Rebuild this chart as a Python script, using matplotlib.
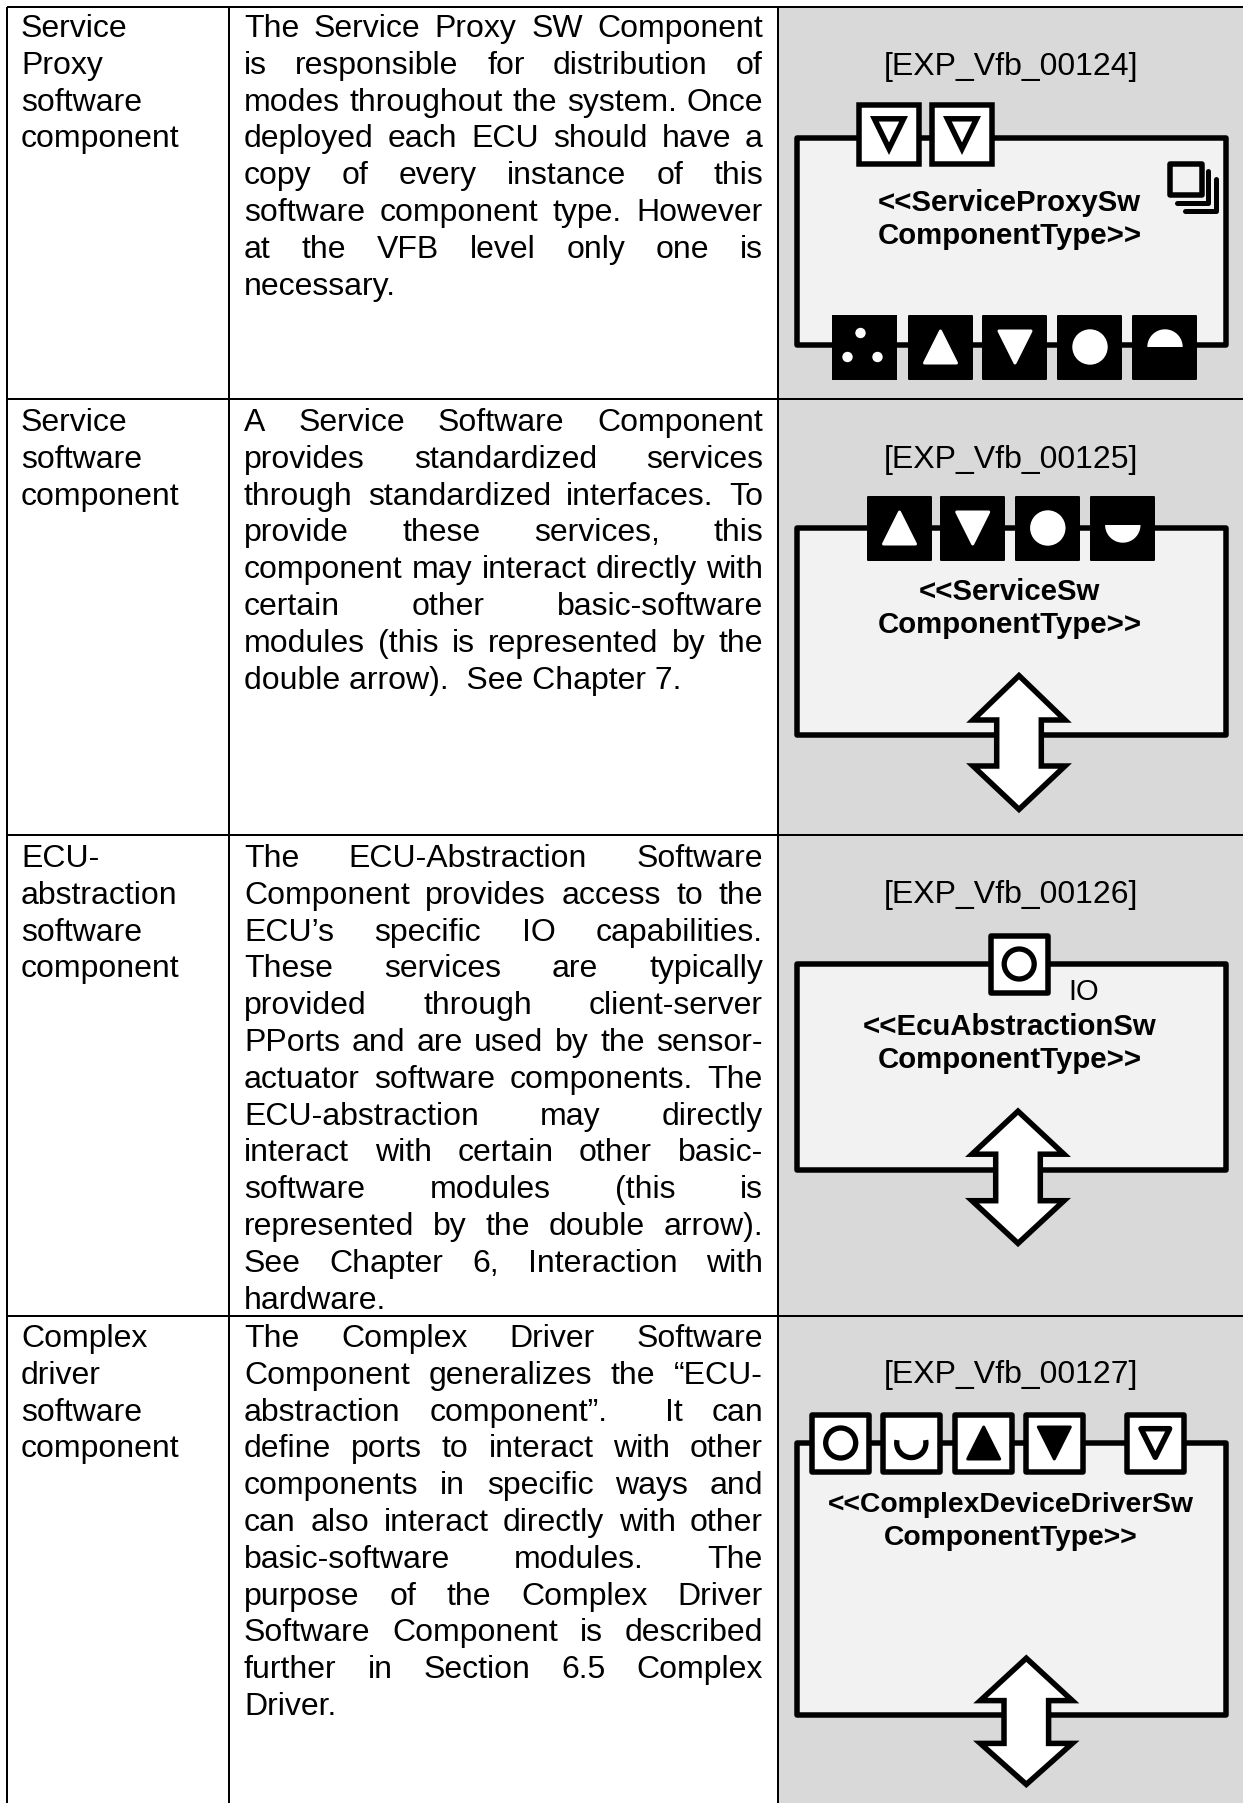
import numpy as np
import matplotlib
matplotlib.use("Agg")
import matplotlib.pyplot as plt
from matplotlib.patches import Rectangle, Polygon, Circle

plt.rcParams['font.family'] = ['Liberation Sans', 'DejaVu Sans']

# table text
row_names = [
    ["Service", "Proxy", "software", "component"],
    ["Service", "software", "component"],
    ["ECU-", "abstraction", "software", "component"],
    ["Complex", "driver", "software", "component"],
]
row_lines = [
    ["The Service Proxy SW Component", "is responsible for distribution of",
     "modes throughout the system. Once", "deployed each ECU should have a",
     "copy of every instance of this", "software component type. However",
     "at the VFB level only one is", "necessary."],
    ["A Service Software Component", "provides standardized services",
     "through standardized interfaces. To", "provide these services, this",
     "component may interact directly with", "certain other basic-software",
     "modules (this is represented by the", "double arrow).  See Chapter 7."],
    ["The ECU-Abstraction Software", "Component provides access to the",
     "ECU\u2019s specific IO capabilities.", "These services are typically",
     "provided through client-server", "PPorts and are used by the sensor-",
     "actuator software components. The", "ECU-abstraction may directly",
     "interact with certain other basic-", "software modules (this is",
     "represented by the double arrow).", "See Chapter 6, Interaction with",
     "hardware."],
    ["The Complex Driver Software", "Component generalizes the \u201cECU-",
     "abstraction component\u201d.  It can", "define ports to interact with other",
     "components in specific ways and", "can also interact directly with other",
     "basic-software modules. The", "purpose of the Complex Driver",
     "Software Component is described", "further in Section 6.5 Complex",
     "Driver."],
]
row_ids = ["[EXP_Vfb_00124]", "[EXP_Vfb_00125]", "[EXP_Vfb_00126]", "[EXP_Vfb_00127]"]
row_types = [
    ["<<ServiceProxySw", "ComponentType>>"],
    ["<<ServiceSw", "ComponentType>>"],
    ["<<EcuAbstractionSw", "ComponentType>>"],
    ["<<ComplexDeviceDriverSw", "ComponentType>>"],
]

# layout, in pixels of the picture
row_tops = [7, 399, 835, 1316]
text_base = [37, 431, 867, 1347]
col_x = [7, 229, 778]
id_base = [75, 468, 903, 1383]
type_base = [(211, 244), (600, 633), (1035, 1068), (1512, 1545)]
type_x = [1009.5, 1009.5, 1009.5, 1010.5]
type_size = [21.2, 21.2, 21.2, 20.3]
box_y = [(138, 345), (528, 735), (964, 1170), (1443, 1715)]
arrow_pos = [None, (1019, 675.6, 809.4), (1018, 1111.2, 1243.4), (1026.3, 1658.2, 1784.4)]
arrow_wings = [None, (44.4, 43.4), (43, 42.7), (42.4, 41)]

# ports: x, y, style, glyph
ports_1 = [(889, 134.5, "open_sq", "tri_down"), (962, 134.5, "open_sq", "tri_down"),
           (864.5, 347, "solid_sq", "dots"), (940.5, 347, "solid", "tri_up"),
           (1015, 347, "solid", "tri_down"), (1090, 347, "solid", "circle"),
           (1165, 347, "solid", "half_up")]
ports_2 = [(899.5, 528, "solid", "tri_up"), (972.7, 528, "solid", "tri_down"),
           (1047.8, 528, "solid", "circle"), (1122.8, 528, "solid", "half_down")]
ports_3 = [(1019.2, 964, "open", "ring")]
ports_4 = [(840.7, 1443, "open", "ring"), (911.3, 1443, "open", "arc"),
           (983.7, 1443, "open", "fill_up"), (1054.3, 1443, "open", "fill_down"),
           (1155.3, 1443, "open", "tri_open")]
all_ports = [ports_1, ports_2, ports_3, ports_4]

PX = 0.72
fig = plt.figure(figsize=(12.43, 18.03), dpi=100)
ax = fig.add_axes([0, 0, 1, 1])
ax.set_xlim(0, 1243)
ax.set_ylim(1803, 0)
ax.axis("off")
rend = fig.canvas.get_renderer()


def justified(line, x0, x1, y, stretch):
    words = line.split(" ")
    if not stretch:
        ax.text(x0, y, line, fontsize=23, va="baseline", ha="left", color="black")
        return
    items = [ax.text(x0, y, w, fontsize=23, va="baseline", ha="left", color="black") for w in words]
    widths = [t.get_window_extent(rend).width for t in items]
    gap = (x1 - x0 - sum(widths)) / (len(words) - 1)
    x = x0
    for t, w in zip(items, widths):
        t.set_x(x)
        x += w + gap


def poly(pts, fc, ec, lw, join="miter", z=5):
    ax.add_patch(Polygon(pts, closed=True, fc=fc, ec=ec, lw=lw * PX, joinstyle=join, zorder=z))


def draw_glyph(x, y, kind, col):
    if kind == "tri_up" or kind == "fill_up":
        poly([(x - 16, y + 16), (x + 16, y + 16), (x, y - 16)], col, col, 3, "round", 7)
    elif kind == "tri_down" and col == "white" or kind == "fill_down":
        poly([(x - 16, y - 16), (x + 16, y - 16), (x, y + 16)], col, col, 3, "round", 7)
    elif kind == "tri_down":
        poly([(x - 14.6, y - 15.7), (x + 14.6, y - 15.7), (x, y + 14.2)], "none", "black", 5.5, "miter", 7)
    elif kind == "tri_open":
        poly([(x - 14.3, y - 14.3), (x + 14.3, y - 14.3), (x, y + 14.3)], "none", "black", 5.5, "round", 7)
    elif kind == "circle":
        ax.add_patch(Circle((x, y), 17.7, fc=col, ec="none", zorder=7))
    elif kind == "ring":
        ax.add_patch(Circle((x, y), 15, fc="none", ec="black", lw=5.3 * PX, zorder=7))
    elif kind == "arc":
        t = np.linspace(-0.2, np.pi + 0.2, 40)
        ax.plot(x + 14.6 * np.cos(t), y + 14.6 * np.sin(t), color="black", lw=5.3 * PX,
                solid_capstyle="butt", zorder=7)
    elif kind == "half_up":
        t = np.linspace(np.pi, 2 * np.pi, 40)
        poly(np.column_stack([x + 17.7 * np.cos(t), y + 17.7 * np.sin(t)]), col, "none", 0, "round", 7)
    elif kind == "half_down":
        t = np.linspace(0, np.pi, 40)
        poly(np.column_stack([x + 17.7 * np.cos(t), y - 3 + 17.7 * np.sin(t)]), col, "none", 0, "round", 7)
    elif kind == "dots":
        for dx, dy in [(-4, -14), (-17, 10), (13, 10)]:
            ax.add_patch(Circle((x + dx, y + dy), 5.2, fc=col, ec="none", zorder=7))


def draw_port(x, y, style, kind):
    if style.startswith("solid"):
        join = "miter" if style == "solid_sq" else "round"
        ax.add_patch(Rectangle((x - 31.5, y - 31.5), 63, 63, fc="black", ec="black", lw=2 * PX,
                               joinstyle=join, zorder=6))
        draw_glyph(x, y, kind, "white")
    else:
        join = "miter" if style == "open_sq" else "round"
        half = 29.7 if style == "open_sq" else 28.5
        ax.add_patch(Rectangle((x - half, y - half), 2 * half, 2 * half, fc="white", ec="black",
                               lw=5.5 * PX, joinstyle=join, zorder=6))
        draw_glyph(x, y, kind, "black")


def draw_arrow(x, top, bottom, wing_top, wing_bot):
    sw, hw = 22.3, 46
    w1, w2 = top + wing_top, bottom - wing_bot
    pts = [(x, top), (x + hw, w1), (x + sw, w1), (x + sw, w2), (x + hw, w2), (x, bottom),
           (x - hw, w2), (x - sw, w2), (x - sw, w1), (x - hw, w1)]
    poly(pts, "white", "black", 5.5, "miter", 6)


# grey column and grid
ax.add_patch(Rectangle((col_x[2], row_tops[0]), 1243 - col_x[2], 1803, fc="#d9d9d9", ec="none", zorder=0))
for y in row_tops:
    ax.plot([col_x[0], 1243], [y, y], color="black", lw=2 * PX, solid_capstyle="butt", zorder=1)
for x in col_x:
    ax.plot([x, x], [row_tops[0], 1803], color="black", lw=2 * PX, solid_capstyle="butt", zorder=1)

for i in range(4):
    base = text_base[i]
    for j, name in enumerate(row_names[i]):
        ax.text(21, base + j * 36.8, name, fontsize=23, va="baseline", ha="left", color="black")
    lines = row_lines[i]
    for j, line in enumerate(lines):
        justified(line, 244, 763, base + j * 36.8, j < len(lines) - 1)

    ax.text(1011, id_base[i], row_ids[i], fontsize=23, va="baseline", ha="center", color="black")

    top, bot = box_y[i]
    ax.add_patch(Rectangle((796.7, top), 429.3, bot - top, fc="#f2f2f2", ec="black", lw=5.5 * PX,
                           joinstyle="round", zorder=2))
    for t, yb in zip(row_types[i], type_base[i]):
        ax.text(type_x[i], yb, t, fontsize=type_size[i], fontweight="bold", va="baseline", ha="center",
                color="black", zorder=8)
    for x, y, style, kind in all_ports[i]:
        draw_port(x, y, style, kind)
    if arrow_pos[i] is not None:
        draw_arrow(*arrow_pos[i], *arrow_wings[i])

ax.text(1068, 999.5, "IO", fontsize=21, va="baseline", ha="left", color="black", zorder=8)

# stacked squares of the proxy component
ax.add_patch(Rectangle((1170.5, 163.5), 32, 31, fc="#f2f2f2", ec="black", lw=5.5 * PX,
                       joinstyle="round", zorder=6))
for dx in [0, 8]:
    ax.plot([1208 + dx, 1208 + dx, 1177 + dx], [171 + dx, 203 + dx, 203 + dx], color="black",
            lw=5 * PX, solid_joinstyle="round", solid_capstyle="round", zorder=6)

fig.savefig("out.png", dpi=100)
